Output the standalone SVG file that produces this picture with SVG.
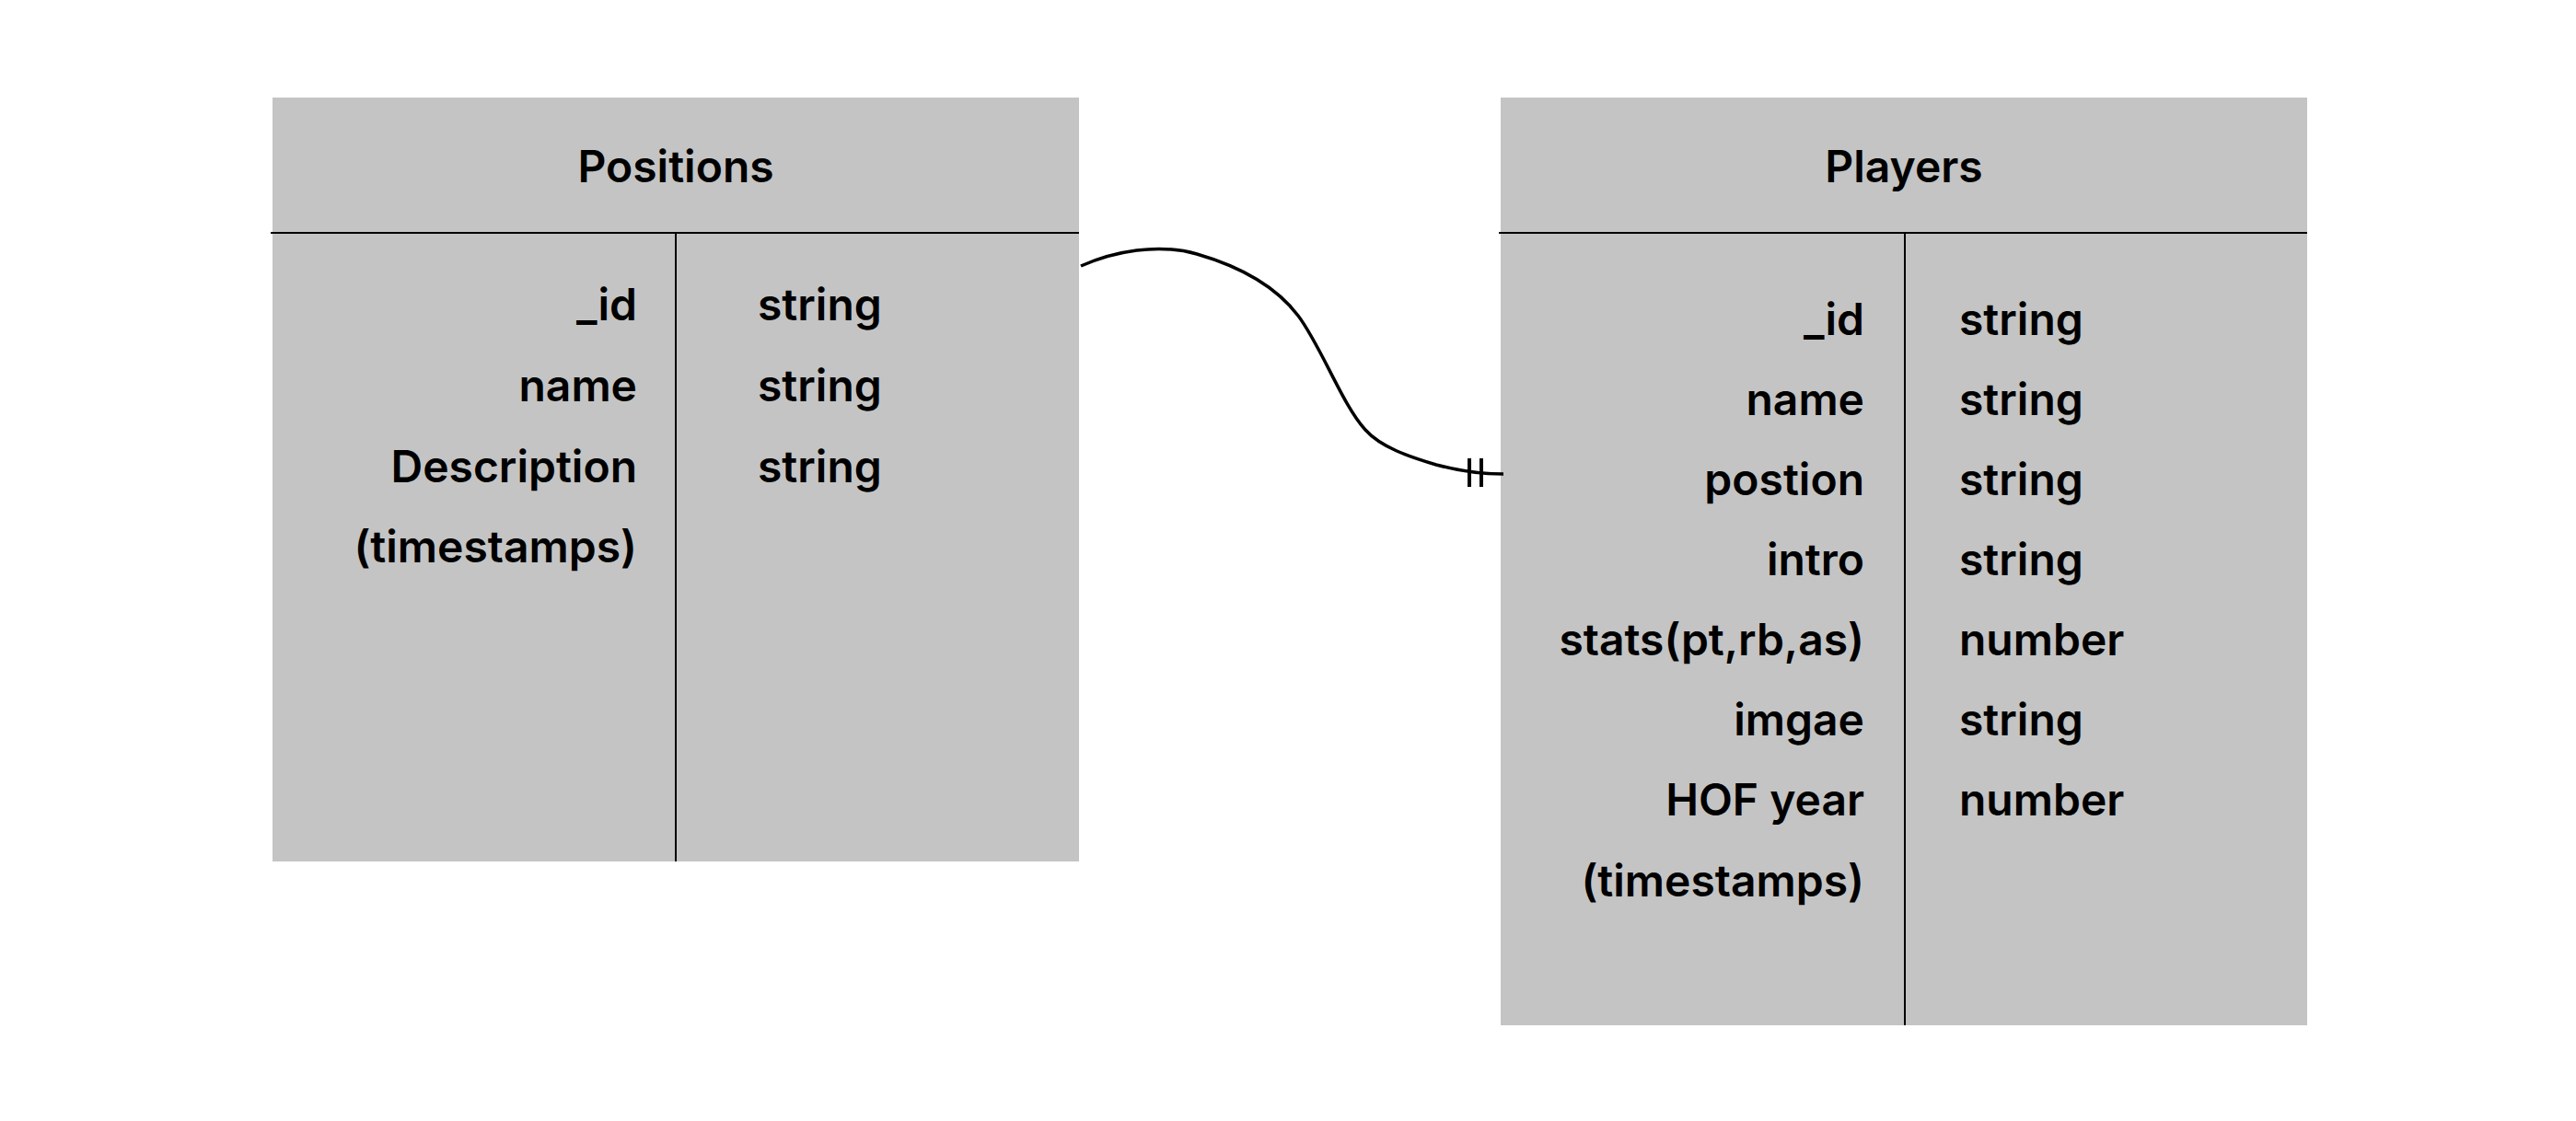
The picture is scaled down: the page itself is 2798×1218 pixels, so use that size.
<svg xmlns="http://www.w3.org/2000/svg" width="2798" height="1218" viewBox="0 0 2798 1218">
  <style>
    .body { fill: #c4c4c4; }
    .rule { stroke: #000; stroke-width: 2; fill: none; }
    .title { font-family: Inter, "Noto Sans", "Liberation Sans", sans-serif; font-weight: 600; font-size: 48px; fill: #000; text-anchor: middle; }
    .field { font-family: Inter, "Noto Sans", "Liberation Sans", sans-serif; font-weight: 600; font-size: 48px; fill: #000; text-anchor: end; }
    .type { font-family: Inter, "Noto Sans", "Liberation Sans", sans-serif; font-weight: 600; font-size: 48px; fill: #000; text-anchor: start; }
    .link { stroke: #000; stroke-width: 3.5; fill: none; }
    .tick { stroke: #000; stroke-width: 4; fill: none; }
  </style>
  <rect width="2798" height="1218" fill="#fff"/>

  <!-- Positions collection -->
  <g id="positions">
    <rect class="body" x="296" y="106" width="876" height="830"/>
    <line class="rule" x1="294" y1="253" x2="1172" y2="253"/>
    <line class="rule" x1="734" y1="253" x2="734" y2="936"/>
    <text class="title" x="734" y="198">Positions</text>
    <text class="field" x="692" y="348">_id</text>
    <text class="field" x="692" y="436">name</text>
    <text class="field" x="692" y="524">Description</text>
    <text class="field" x="692" y="611">(timestamps)</text>
    <text class="type" x="823" y="348">string</text>
    <text class="type" x="823" y="436">string</text>
    <text class="type" x="823" y="524">string</text>
  </g>

  <!-- Players collection -->
  <g id="players">
    <rect class="body" x="1630" y="106" width="876" height="1008"/>
    <line class="rule" x1="1628" y1="253" x2="2506" y2="253"/>
    <line class="rule" x1="2069" y1="253" x2="2069" y2="1114"/>
    <text class="title" x="2068" y="198">Players</text>
    <text class="field" x="2025" y="364">_id</text>
    <text class="field" x="2025" y="451">name</text>
    <text class="field" x="2025" y="538">postion</text>
    <text class="field" x="2025" y="625">intro</text>
    <text class="field" x="2025" y="712">stats(pt,rb,as)</text>
    <text class="field" x="2025" y="799">imgae</text>
    <text class="field" x="2025" y="886">HOF year</text>
    <text class="field" x="2025" y="974">(timestamps)</text>
    <text class="type" x="2128" y="364">string</text>
    <text class="type" x="2128" y="451">string</text>
    <text class="type" x="2128" y="538">string</text>
    <text class="type" x="2128" y="625">string</text>
    <text class="type" x="2128" y="712">number</text>
    <text class="type" x="2128" y="799">string</text>
    <text class="type" x="2128" y="886">number</text>
  </g>

  <!-- Relationship: Positions to Players (one-and-only-one end at Players) -->
  <g id="connectors">
    <path class="link" d="M1174,289 C1210,273 1258,264 1300,276 C1345,289 1385,310 1410,343 C1435,376 1458,440 1483,467 C1500,486 1530,496 1560,505 C1590,513 1610,515 1633,515"/>
    <line class="tick" x1="1596" y1="498" x2="1596" y2="529"/>
    <line class="tick" x1="1609" y1="498" x2="1609" y2="529"/>
  </g>
</svg>
